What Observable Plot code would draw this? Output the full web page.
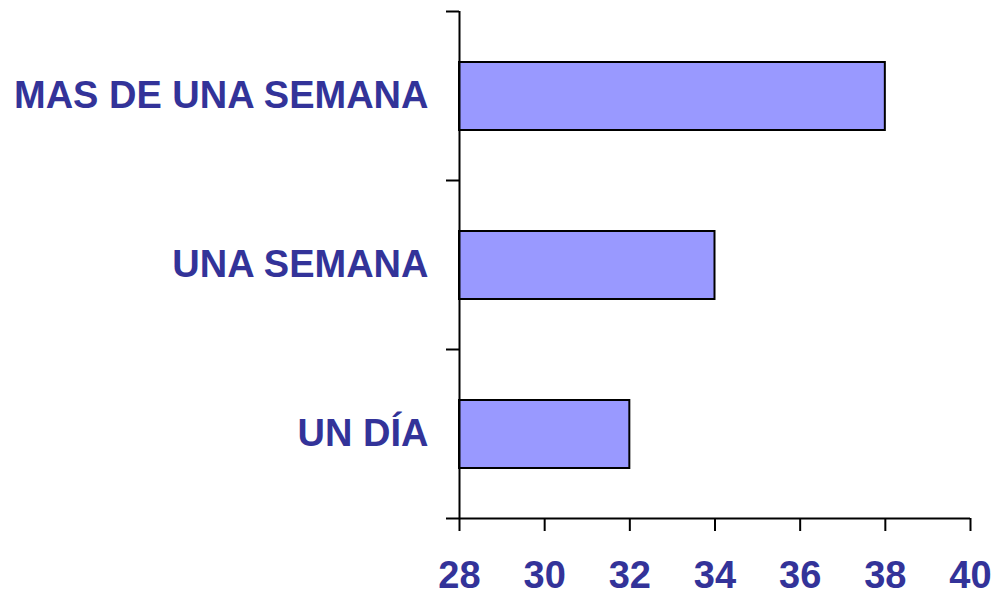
<!DOCTYPE html>
<html>
<head>
<meta charset="utf-8">
<script src="https://cdn.jsdelivr.net/npm/d3@7"></script>
<script src="https://cdn.jsdelivr.net/npm/@observablehq/plot@0.6"></script>
<style>
  html, body { margin: 0; padding: 0; background: #fff; }
  svg { display: block; }
</style>
</head>
<body>
<div id="chart"></div>
<script>
// Data (bottom to top)
const categories = ["UN DÍA", "UNA SEMANA", "MAS DE UNA SEMANA"];
const values = [32, 34, 38];
const xTicks = [28, 30, 32, 34, 36, 38, 40];

const data = categories.map((c, i) => ({ category: c, index: i, value: values[i] }));
const yBoundaries = d3.range(categories.length + 1);

const labelColor = "#333399";
const font = "Liberation Sans, Arial, sans-serif";

const chart = Plot.plot({
  width: 997,
  height: 596,
  marginLeft: 459,
  marginRight: 27,
  marginTop: 11,
  marginBottom: 78,
  style: { fontFamily: font, background: "#fff" },
  x: { domain: [28, 40] },
  y: { domain: [0, categories.length] },
  marks: [
    Plot.rectX(data, {
      x1: 28,
      x2: "value",
      y: "index",
      interval: 1,
      insetTop: 51,
      insetBottom: 50,
      fill: "#9999FF",
      stroke: "black",
      strokeWidth: 2
    }),
    Plot.ruleX([28], { stroke: "black", strokeWidth: 2 }),
    Plot.ruleY([0], { stroke: "black", strokeWidth: 2 }),
    Plot.axisY({
      ticks: yBoundaries,
      tickFormat: () => "",
      tickSize: 13,
      stroke: "black",
      strokeWidth: 2,
      label: null
    }),
    Plot.axisX({
      ticks: xTicks,
      tickSize: 13,
      tickPadding: 30,
      stroke: "black",
      strokeWidth: 2,
      fill: labelColor,
      fontSize: 38,
      fontWeight: "bold",
      label: null
    }),
    Plot.text(data, {
      y: (d) => d.index + 0.5,
      text: "category",
      frameAnchor: "left",
      textAnchor: "end",
      dx: -31,
      fill: labelColor,
      fontSize: 38,
      fontWeight: "bold"
    })
  ]
});

document.getElementById("chart").appendChild(chart);
</script>
</body>
</html>
